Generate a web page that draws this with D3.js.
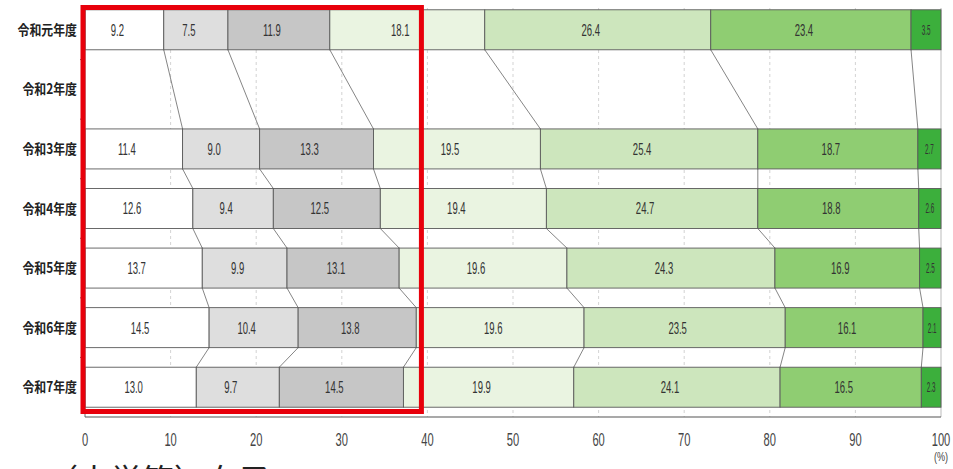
<!DOCTYPE html>
<html><head><meta charset="utf-8">
<script src="https://cdn.jsdelivr.net/npm/d3@7"></script>
<style>
body{margin:0;background:#fff;}
svg{display:block;}
</style></head>
<body><svg id="c" width="953" height="469"></svg>
<script>
const categories = ['令和元年度','令和2年度','令和3年度','令和4年度','令和5年度','令和6年度','令和7年度'];
const s1 = [9.2, null, 11.4, 12.6, 13.7, 14.5, 13.0];
const s2 = [7.5, null, 9.0, 9.4, 9.9, 10.4, 9.7];
const s3 = [11.9, null, 13.3, 12.5, 13.1, 13.8, 14.5];
const s4 = [18.1, null, 19.5, 19.4, 19.6, 19.6, 19.9];
const s5 = [26.4, null, 25.4, 24.7, 24.3, 23.5, 24.1];
const s6 = [23.4, null, 18.7, 18.8, 16.9, 16.1, 16.5];
const s7 = [3.5, null, 2.7, 2.6, 2.5, 2.1, 2.3];
const seriesList = [s1, s2, s3, s4, s5, s6, s7];
const seriesColors = ['#ffffff','#dedede','#c6c6c6','#eaf4e1','#cde6bd','#8fcd72','#3caf3c'];
const xTicks = [0,10,20,30,40,50,60,70,80,90,100];
const highlightRange = [0, 39.3];
const bottomTitle = '（大学等）女子';

const svg = d3.select('#c');
const x = d3.scaleLinear().domain([0,100]).range([85, 941]);
const y = d3.scalePoint().domain(categories).range([0, 417]).padding(0.5);
const step = y.step();
const barH = 40;
const plotTop = 0, plotBottom = 417;
const NUMFONT = "'Liberation Sans','Arial',sans-serif";

// gridlines
svg.append('g').selectAll('line').data(xTicks.filter(t=>t>0 && t<100)).join('line')
  .attr('x1', d=>x(d)).attr('x2', d=>x(d)).attr('y1', plotTop+8).attr('y2', plotBottom)
  .attr('stroke', '#c8c8c8').attr('stroke-width', 0.8).attr('stroke-dasharray', '3,3');
svg.append('line').attr('x1', x(100)).attr('x2', x(100)).attr('y1', plotTop+8).attr('y2', plotBottom)
  .attr('stroke', '#bbb').attr('stroke-width', 1);

// rows data
const rows = categories.map((c,i)=>{
  const vals = seriesList.map(s=>s[i]);
  if (vals[0] === null) return {cat:c, segs:null};
  let cum = 0; const segs = vals.map((v,k)=>{const s={k, v, x0:cum, x1:cum+v}; cum+=v; return s;});
  return {cat:c, segs};
});
const filled = rows.filter(r=>r.segs);

// connectors
const conn = svg.append('g');
for (let i=0;i<filled.length-1;i++){
  const a = filled[i], b = filled[i+1];
  for (let k=0;k<6;k++){
    conn.append('line')
      .attr('x1', x(a.segs[k].x1)).attr('y1', y(a.cat)+barH/2)
      .attr('x2', x(b.segs[k].x1)).attr('y2', y(b.cat)-barH/2)
      .attr('stroke', '#666').attr('stroke-width', 0.8);
  }
}

// bars
const gb = svg.append('g');
filled.forEach(r=>{
  const g = gb.append('g');
  g.selectAll('rect').data(r.segs).join('rect')
    .attr('x', d=>x(d.x0)).attr('width', d=>x(d.x1)-x(d.x0))
    .attr('y', y(r.cat)-barH/2).attr('height', barH)
    .attr('fill', d=>seriesColors[d.k]).attr('stroke', '#5a5a5a').attr('stroke-width', 0.9);
  g.selectAll('text').data(r.segs).join('text')
    .attr('transform', d=>`translate(${(x(d.x0)+x(d.x1))/2 - (d.k===6?0:7)},${y(r.cat)}) scale(${d.k===6?0.45:0.56},1)`)
    .attr('dy', '0.35em').attr('text-anchor', 'middle')
    .attr('font-family', NUMFONT)
    .attr('font-size', d=>d.k===6?14:17).attr('fill', '#333')
    .text(d=>d.v.toFixed(1));
});

// y axis
svg.append('line').attr('x1', x(0)).attr('x2', x(0)).attr('y1', plotTop+8).attr('y2', plotBottom).attr('stroke','#666');
svg.append('g').selectAll('line').data(d3.range(1,7)).join('line')
  .attr('x1', x(0)-5).attr('x2', x(0)).attr('y1', d=>d*step).attr('y2', d=>d*step).attr('stroke','#666');
svg.append('g').selectAll('text').data(categories).join('text')
  .attr('transform', d=>`translate(77,${y(d)}) scale(0.85,1)`).attr('dy','0.36em').attr('text-anchor','end')
  .attr('font-family', "'Noto Sans CJK JP',sans-serif").attr('font-size', 14).attr('font-weight', 700)
  .attr('fill', '#222').text(d=>d);

// x axis
svg.append('line').attr('x1', x(0)).attr('x2', x(100)).attr('y1', plotBottom).attr('y2', plotBottom).attr('stroke','#555').attr('stroke-width',1.2);
svg.append('g').selectAll('text').data(xTicks).join('text')
  .attr('transform', d=>`translate(${x(d)},446) scale(0.62,1)`).attr('text-anchor','middle')
  .attr('font-family', NUMFONT).attr('font-size', 18).attr('fill','#444')
  .text(d=>d);
svg.append('text').attr('transform', `translate(${x(100)},461) scale(0.7,1)`).attr('text-anchor','middle')
  .attr('font-family', NUMFONT).attr('font-size', 13).attr('fill','#444')
  .text('(%)');

// highlight box
svg.append('rect').attr('x', x(highlightRange[0])-2).attr('y', 7.5)
  .attr('width', x(highlightRange[1])-x(highlightRange[0])+2).attr('height', 404)
  .attr('fill','none').attr('stroke','#e8000b').attr('stroke-width', 5);

// bottom title (cut off at the bottom edge, as in the reference)
svg.append('text').attr('x', 46).attr('y', 492)
  .attr('font-family', "'Noto Sans CJK JP',sans-serif").attr('font-size', 32).attr('fill','#222')
  .text(bottomTitle);
</script></body></html>
